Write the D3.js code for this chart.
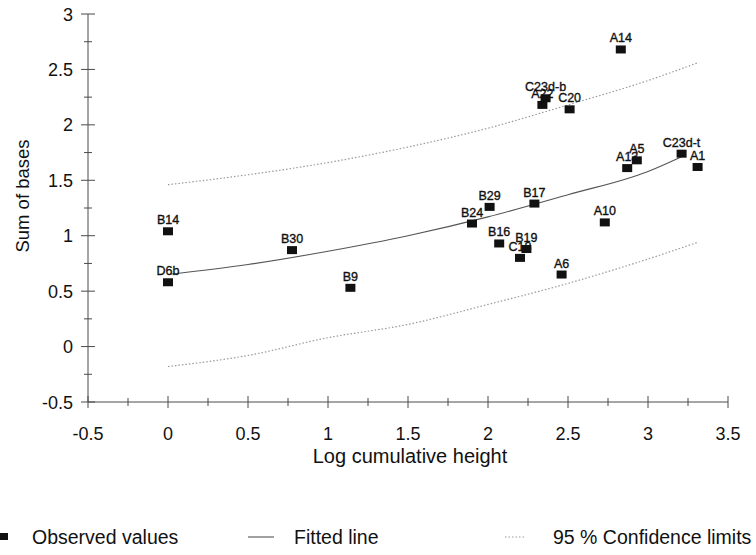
<!DOCTYPE html>
<html>
<head>
<meta charset="utf-8">
<script src="https://cdn.jsdelivr.net/npm/d3@7"></script>
<style>
  html, body { margin: 0; padding: 0; background: #fff; }
  svg { display: block; font-family: "Liberation Sans", Arial, sans-serif; }
</style>
</head>
<body>
<svg id="chart" width="756" height="555"></svg>
<script>
// Observed samples: log cumulative height vs. sum of bases
const pointLabels = ["B14", "D6b", "B30", "B9", "B24", "B29", "B17", "B16", "B19", "C18",
                     "A6", "A10", "A14", "A22", "C23d-b", "C20", "A13", "A5", "C23d-t", "A1"];
const logHeight = [0.00, 0.00, 0.775, 1.14, 1.90, 2.01, 2.29, 2.07, 2.24, 2.20,
                   2.46, 2.73, 2.83, 2.34, 2.36, 2.51, 2.87, 2.93, 3.21, 3.31];
const sumBases = [1.04, 0.58, 0.87, 0.53, 1.11, 1.26, 1.29, 0.93, 0.88, 0.80,
                  0.65, 1.12, 2.68, 2.18, 2.24, 2.14, 1.61, 1.68, 1.74, 1.62];

// Fitted regression curve
const fitX = [0, 0.5, 1, 1.5, 2, 2.5, 3, 3.22];
const fitY = [0.65, 0.74, 0.86, 1.00, 1.17, 1.37, 1.58, 1.72];

// 95 % confidence limits
const limX = [0, 0.5, 1, 1.5, 2, 2.5, 3, 3.31];
const upperY = [1.46, 1.55, 1.66, 1.80, 1.97, 2.18, 2.40, 2.56];
const lowerY = [-0.18, -0.08, 0.08, 0.20, 0.38, 0.57, 0.79, 0.94];

// Axis ticks
const xTicks = [-0.5, 0, 0.5, 1, 1.5, 2, 2.5, 3, 3.5];
const yTicks = [-0.5, 0, 0.5, 1, 1.5, 2, 2.5, 3];

const legendItems = ["Observed values", "Fitted line", "95 % Confidence limits"];

const svg = d3.select("#chart");
const x = d3.scaleLinear().domain([-0.5, 3.5]).range([88, 728]);
const y = d3.scaleLinear().domain([-0.5, 3]).range([402, 14]);

const axisColor = "#4a4a4a";

// Axes with crossing major/minor ticks
const gx = svg.append("g");
gx.append("line").attr("x1", x(-0.5)).attr("x2", x(3.5))
  .attr("y1", y(-0.5)).attr("y2", y(-0.5)).attr("stroke", axisColor);
d3.range(-0.5, 3.5001, 0.25).forEach(v => {
  const major = Math.abs(v * 2 - Math.round(v * 2)) < 1e-6;
  const h = major ? 6 : 4;
  gx.append("line").attr("x1", x(v)).attr("x2", x(v))
    .attr("y1", y(-0.5) - h).attr("y2", y(-0.5) + h).attr("stroke", axisColor);
});
gx.selectAll("text.tick").data(xTicks).join("text")
  .attr("x", d => x(d)).attr("y", 440)
  .attr("text-anchor", "middle").attr("font-size", 18).attr("fill", "#111")
  .text(d => d);

const gy = svg.append("g");
gy.append("line").attr("x1", x(-0.5)).attr("x2", x(-0.5))
  .attr("y1", y(-0.5)).attr("y2", y(3)).attr("stroke", axisColor);
d3.range(-0.5, 3.0001, 0.25).forEach(v => {
  const major = Math.abs(v * 2 - Math.round(v * 2)) < 1e-6;
  const w = major ? 7 : 4;
  gy.append("line").attr("x1", x(-0.5) - w).attr("x2", x(-0.5) + w)
    .attr("y1", y(v)).attr("y2", y(v)).attr("stroke", axisColor);
});
gy.selectAll("text.tick").data(yTicks).join("text")
  .attr("x", 73).attr("y", d => y(d) + 6.5)
  .attr("text-anchor", "end").attr("font-size", 18).attr("fill", "#111")
  .text(d => d);

// Axis titles
svg.append("text").attr("x", 410).attr("y", 463)
  .attr("text-anchor", "middle").attr("font-size", 20).attr("fill", "#111")
  .text("Log cumulative height");
svg.append("text").attr("transform", "translate(29,196) rotate(-90)")
  .attr("text-anchor", "middle").attr("font-size", 18.5).attr("fill", "#111")
  .text("Sum of bases");

// Curves
const line = d3.line().x(d => x(d[0])).y(d => y(d[1])).curve(d3.curveMonotoneX);
svg.append("path").datum(limX.map((v, i) => [v, upperY[i]]))
  .attr("d", line).attr("fill", "none").attr("stroke", "#9a9a9a")
  .attr("stroke-width", 1.2).attr("stroke-dasharray", "1.5,2");
svg.append("path").datum(limX.map((v, i) => [v, lowerY[i]]))
  .attr("d", line).attr("fill", "none").attr("stroke", "#9a9a9a")
  .attr("stroke-width", 1.2).attr("stroke-dasharray", "1.5,2");
svg.append("path").datum(fitX.map((v, i) => [v, fitY[i]]))
  .attr("d", line).attr("fill", "none").attr("stroke", "#555")
  .attr("stroke-width", 1.1);

// Point labels, then markers on top
const pts = pointLabels.map((l, i) => ({ label: l, lx: logHeight[i], sb: sumBases[i] }));
svg.append("g").selectAll("text").data(pts).join("text")
  .attr("x", d => x(d.lx)).attr("y", d => y(d.sb) - 7)
  .attr("text-anchor", "middle").attr("font-size", 12.5).attr("fill", "#111")
  .attr("stroke", "#111").attr("stroke-width", 0.35)
  .text(d => d.label);
svg.append("g").selectAll("rect").data(pts).join("rect")
  .attr("x", d => x(d.lx) - 5).attr("y", d => y(d.sb) - 4)
  .attr("width", 10).attr("height", 8).attr("fill", "#111");

// Legend
const ly = 537;
const lg = svg.append("g").attr("font-size", 19.5).attr("fill", "#111");
lg.append("rect").attr("x", 0).attr("y", ly - 4).attr("width", 8).attr("height", 7).attr("fill", "#111");
lg.append("text").attr("x", 32).attr("y", ly + 7).text(legendItems[0]);
lg.append("line").attr("x1", 248).attr("x2", 274).attr("y1", ly).attr("y2", ly)
  .attr("stroke", "#555").attr("stroke-width", 1.1);
lg.append("text").attr("x", 294).attr("y", ly + 7).text(legendItems[1]);
lg.append("line").attr("x1", 505).attr("x2", 526).attr("y1", ly).attr("y2", ly)
  .attr("stroke", "#9a9a9a").attr("stroke-width", 1.2).attr("stroke-dasharray", "1.5,2");
lg.append("text").attr("x", 553).attr("y", ly + 7).text(legendItems[2]);
</script>
</body>
</html>
